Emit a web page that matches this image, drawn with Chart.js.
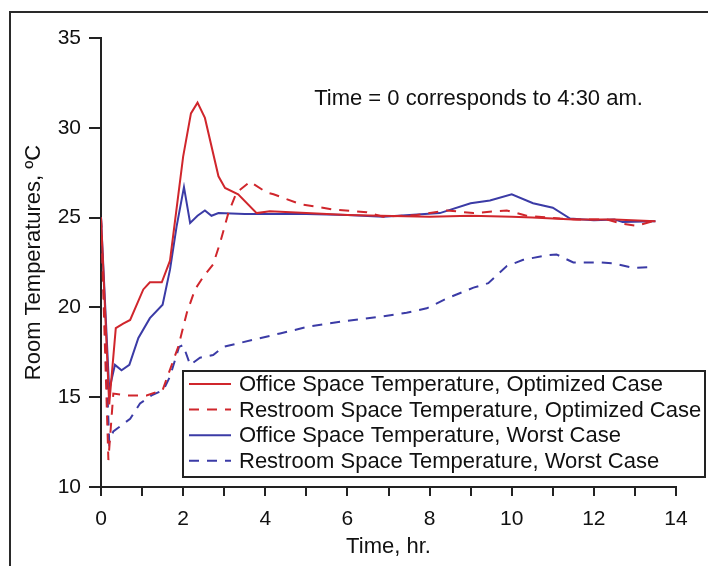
<!DOCTYPE html>
<html lang="en">
<head>
  <meta charset="UTF-8">
  <title>Room Temperatures</title>
  <script src="https://cdn.jsdelivr.net/npm/chart.js"></script>
  <style>
    body {
      margin: 0;
      padding: 0;
      background: #fff;
      overflow: hidden;
    }
    .frame {
      position: absolute;
      left: 9px;
      top: 11px;
      width: 800px;
      height: 700px;
      border: 2px solid #2a2a2a;
    }
    .wrap {
      position: absolute;
      left: 0;
      top: 0;
      width: 708px;
      height: 566px;
    }
  </style>
</head>
<body>
  <div class="frame"></div>
  <div class="wrap">
    <canvas id="tempChart" width="708" height="566"></canvas>
  </div>

  <script>
    // Office space, optimized case
    const officeOptTime = [0, 0.2, 0.36, 0.54, 0.71, 1.03, 1.19, 1.48, 1.68, 2.0, 2.19, 2.35, 2.53, 2.86, 3.02, 3.34, 3.79, 4.11, 5.0, 6.0, 6.8, 8.0, 9.0, 10.0, 10.5, 11.5, 12.5, 13.5];
    const officeOptTemp = [25.0, 14.6, 18.85, 19.1, 19.3, 21.0, 21.4, 21.4, 22.6, 28.4, 30.8, 31.4, 30.55, 27.3, 26.65, 26.3, 25.25, 25.35, 25.25, 25.15, 25.1, 25.05, 25.1, 25.05, 25.0, 24.9, 24.9, 24.8];

    // Restroom space, optimized case
    const restOptTime = [0, 0.18, 0.3, 0.62, 1.11, 1.5, 1.88, 2.09, 2.29, 2.49, 2.73, 2.9, 3.1, 3.3, 3.63, 4.03, 4.2, 4.85, 5.65, 6.47, 6.87, 7.69, 8.42, 9.07, 9.88, 10.36, 11.18, 11.58, 12.31, 12.7, 13.04, 13.44];
    const restOptTemp = [25.0, 11.5, 15.2, 15.1, 15.1, 15.4, 17.8, 19.7, 21.0, 21.7, 22.4, 23.6, 25.25, 26.4, 27.0, 26.4, 26.3, 25.75, 25.45, 25.3, 25.05, 25.15, 25.4, 25.25, 25.4, 25.1, 24.95, 24.9, 24.9, 24.65, 24.55, 24.8];

    // Office space, worst case
    const officeWorstTime = [0, 0.2, 0.34, 0.5, 0.69, 0.91, 1.19, 1.5, 1.68, 1.84, 2.02, 2.17, 2.35, 2.53, 2.69, 2.86, 3.5, 5.0, 6.0, 6.87, 8.25, 9.0, 9.47, 10.0, 10.52, 11.0, 11.42, 12.0, 12.5, 12.7, 13.5];
    const officeWorstTemp = [25.0, 15.4, 16.8, 16.5, 16.8, 18.3, 19.4, 20.15, 22.1, 24.5, 26.7, 24.7, 25.1, 25.4, 25.1, 25.25, 25.2, 25.2, 25.15, 25.05, 25.25, 25.8, 25.95, 26.3, 25.8, 25.55, 24.95, 24.85, 24.9, 24.75, 24.8];

    // Restroom space, worst case
    const restWorstTime = [0, 0.2, 0.3, 0.42, 0.71, 0.95, 1.23, 1.52, 1.68, 1.9, 2.0, 2.17, 2.41, 2.73, 2.98, 3.71, 4.36, 5.09, 5.98, 6.87, 7.44, 7.93, 8.42, 9.07, 9.43, 9.88, 10.28, 10.85, 11.09, 11.5, 12.15, 12.47, 12.96, 13.49];
    const restWorstTemp = [25.0, 12.5, 13.1, 13.3, 13.8, 14.65, 15.1, 15.4, 16.15, 17.8, 17.9, 16.8, 17.2, 17.35, 17.8, 18.2, 18.55, 18.95, 19.25, 19.5, 19.7, 19.95, 20.5, 21.1, 21.35, 22.3, 22.65, 22.9, 22.95, 22.5, 22.5, 22.45, 22.2, 22.25];

    const seriesLabels = [
      "Office Space Temperature, Optimized Case",
      "Restroom Space Temperature, Optimized Case",
      "Office Space Temperature, Worst Case",
      "Restroom Space Temperature, Worst Case"
    ];

    const xTicks = [0, 2, 4, 6, 8, 10, 12, 14];
    const yTicks = [10, 15, 20, 25, 30, 35];
    const note = "Time = 0 corresponds to 4:30 am.";

    const RED = "#d0262c";
    const BLUE = "#3b3ba6";
    const FONT = "'Liberation Sans', Arial, sans-serif";

    const toPoints = (xs, ys) => xs.map((x, i) => ({ x: x, y: ys[i] }));

    // boxed legend drawn inside the plot, plus the note text
    const insideLegend = {
      id: "insideLegend",
      afterDatasetsDraw(chart) {
        const ctx = chart.ctx;
        const area = chart.chartArea;
        const bx = area.left + 82, by = area.top + 333;
        const bw = 522, bh = 106;
        ctx.save();
        ctx.fillStyle = "#fff";
        ctx.fillRect(bx, by, bw, bh);
        ctx.strokeStyle = "#222";
        ctx.lineWidth = 2;
        ctx.strokeRect(bx, by, bw, bh);

        ctx.font = "22px " + FONT;
        ctx.fillStyle = "#111";
        ctx.textBaseline = "middle";
        chart.data.datasets.forEach((ds, i) => {
          const y = by + 13 + i * 25.6;
          ctx.beginPath();
          ctx.strokeStyle = ds.borderColor;
          ctx.lineWidth = ds.borderWidth;
          ctx.setLineDash(ds.borderDash || []);
          ctx.moveTo(bx + 6, y);
          ctx.lineTo(bx + 48, y);
          ctx.stroke();
          ctx.setLineDash([]);
          ctx.fillText(ds.label, bx + 56, y + 1);
        });

        const xs = chart.scales.x, ys = chart.scales.y;
        ctx.textAlign = "left";
        ctx.font = "22px " + FONT;
        ctx.fillText(note, xs.getPixelForValue(5.19), ys.getPixelForValue(31.6));
        ctx.restore();
      }
    };

    new Chart(document.getElementById("tempChart"), {
      type: "line",
      data: {
        datasets: [
          { label: seriesLabels[0], data: toPoints(officeOptTime, officeOptTemp), borderColor: RED, borderWidth: 2 },
          { label: seriesLabels[1], data: toPoints(restOptTime, restOptTemp), borderColor: RED, borderWidth: 2, borderDash: [10, 8] },
          { label: seriesLabels[2], data: toPoints(officeWorstTime, officeWorstTemp), borderColor: BLUE, borderWidth: 2 },
          { label: seriesLabels[3], data: toPoints(restWorstTime, restWorstTemp), borderColor: BLUE, borderWidth: 2, borderDash: [10, 8] }
        ]
      },
      options: {
        responsive: false,
        animation: false,
        elements: {
          point: { radius: 0 },
          line: { tension: 0, fill: false }
        },
        layout: { padding: { left: 21, right: 32, top: 38, bottom: 2 } },
        plugins: {
          legend: { display: false },
          tooltip: { enabled: false }
        },
        scales: {
          x: {
            type: "linear",
            min: 0,
            max: 14,
            afterFit(scale) { scale.height = 77; },
            afterBuildTicks(scale) {
              const t = [];
              for (let v = 0; v <= 14; v++) t.push({ value: v });
              scale.ticks = t;
            },
            border: { display: true, color: "#222", width: 2 },
            grid: { drawOnChartArea: false, drawTicks: true, tickLength: 9, color: "#222", lineWidth: 2 },
            ticks: {
              color: "#111",
              font: { family: FONT, size: 21 },
              padding: 11,
              maxRotation: 0,
              autoSkip: false,
              callback: (v) => xTicks.includes(v) ? String(v) : ""
            },
            title: {
              display: true,
              text: "Time, hr.",
              color: "#111",
              font: { family: FONT, size: 22 },
              padding: { top: 0, bottom: 4 }
            }
          },
          y: {
            min: 10,
            max: 35,
            afterFit(scale) { scale.width = 80; },
            afterBuildTicks(scale) {
              scale.ticks = yTicks.map(v => ({ value: v }));
            },
            border: { display: true, color: "#222", width: 2 },
            grid: { drawOnChartArea: false, drawTicks: true, tickLength: 12, color: "#222", lineWidth: 2 },
            ticks: {
              color: "#111",
              font: { family: FONT, size: 21 },
              padding: 8
            },
            title: {
              display: true,
              text: "Room Temperatures, ºC",
              color: "#111",
              font: { family: FONT, size: 22 },
              padding: { top: 0, bottom: 0 }
            }
          }
        }
      },
      plugins: [insideLegend]
    });
  </script>
</body>
</html>
